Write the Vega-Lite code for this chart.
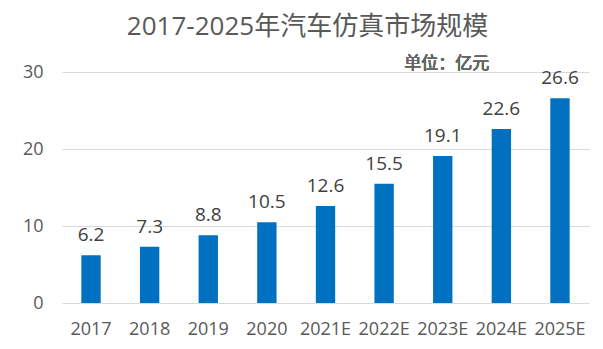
{
  "$schema": "https://vega.github.io/schema/vega-lite/v6.json",
  "autosize": {"type": "none"},
  "width": 527,
  "height": 231,
  "padding": {"left": 62, "top": 72, "right": 14, "bottom": 46},
  "background": "white",
  "config": {"view": {"stroke": null}, "font": "Open Sans, Noto Sans CJK SC"},
  "title": {
    "text": "2017-2025年汽车仿真市场规模",
    "anchor": "middle",
    "fontSize": 26,
    "fontWeight": "normal",
    "color": "#595959",
    "font": "Open Sans, Noto Sans CJK SC",
    "offset": 15,
    "dx": -18
  },
  "data": {
    "values": [
      {"year": "2017", "value": 6.2},
      {"year": "2018", "value": 7.3},
      {"year": "2019", "value": 8.8},
      {"year": "2020", "value": 10.5},
      {"year": "2021E", "value": 12.6},
      {"year": "2022E", "value": 15.5},
      {"year": "2023E", "value": 19.1},
      {"year": "2024E", "value": 22.6},
      {"year": "2025E", "value": 26.6}
    ]
  },
  "encoding": {
    "x": {
      "field": "year", "type": "ordinal", "sort": null,
      "scale": {"paddingInner": 0.67, "paddingOuter": 0.33},
      "axis": {"title": null, "labelAngle": 0, "labelFontSize": 18, "labelColor": "#595959", "ticks": false, "domain": false, "labelPadding": 17, "labelFont": "Open Sans"}
    },
    "y": {
      "field": "value", "type": "quantitative",
      "scale": {"domain": [0, 30]},
      "axis": {"title": null, "values": [0, 10, 20, 30], "labelFontSize": 18, "labelColor": "#595959", "ticks": false, "domain": false, "labelPadding": 19, "gridColor": "#D9D9D9", "gridWidth": 1, "labelFont": "Open Sans"}
    }
  },
  "layer": [
    {"mark": {"type": "bar", "color": "#0070C0"}},
    {
      "mark": {"type": "text", "baseline": "alphabetic", "dy": -14, "fontSize": 19, "color": "#404040", "font": "Open Sans"},
      "encoding": {"text": {"field": "value", "type": "quantitative", "format": ".1f"}}
    },
    {
      "mark": {"type": "text", "baseline": "alphabetic", "dy": -3, "dx": 4, "fontSize": 17, "fontWeight": "normal", "color": "#666666", "font": "Open Sans, Noto Sans CJK SC"},
      "encoding": {
        "x": {"datum": "2023E"},
        "y": {"datum": 30},
        "text": {"value": "单位：亿元"}
      }
    }
  ]
}
